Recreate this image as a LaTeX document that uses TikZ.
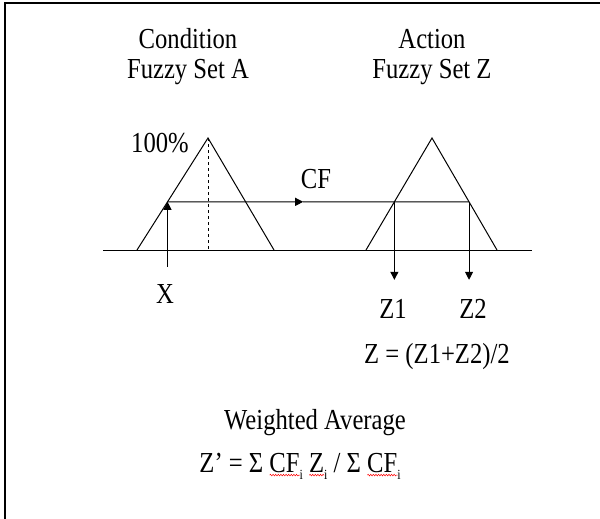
\documentclass[tikz,border=0pt]{standalone}
\usepackage{fontspec}
\setmainfont{Liberation Serif}[FakeStretch=0.85]
\usetikzlibrary{arrows.meta,calc,decorations.pathmorphing}

% red spell-check wave under a word
\newlength\wavlen
\newcommand{\wavy}[1]{\settowidth\wavlen{#1}\rlap{\raisebox{-4pt}{\tikz\draw[red,line width=0.5pt,decorate,
  decoration={snake,amplitude=0.8pt,segment length=2.6pt}] (0,0) -- (\wavlen,0);}}#1}
\newcommand{\sub}[1]{\raisebox{-7pt}{\fontsize{14}{14}\selectfont #1}}

\begin{document}
\begin{tikzpicture}[
  x=1pt,y=-1pt,
  font=\fontsize{29}{30}\selectfont,
  ln/.style={line width=1pt},
  ar/.style={ln,-{Triangle[length=8pt,width=8pt]}},
  lbl/.style={inner sep=0pt,align=center}]

\useasboundingbox (0,0) rectangle (600,519);
\draw[line width=2pt] (5,519) -- (5,3.5) -- (600,3.5);

% axis and the two sets
\coordinate (axis l) at (103,250);
\coordinate (axis r) at (532,250);
\coordinate (a l)  at (137,250);
\coordinate (a r)  at (274,250);
\coordinate (a top) at (208,138);
\coordinate (a foot) at (208,250);
\coordinate (z l)  at (366,250);
\coordinate (z r)  at (497,250);
\coordinate (z top) at (432,138);

\draw[ln] (axis l) -- (axis r);
\draw[ln] (a l) -- (a top) -- (a r);
\draw[ln] (z l) -- (z top) -- (z r);
\draw[ln,dashed] (a top) -- (a foot);

% cut level
\coordinate (x cut)  at ($(a l)!.43!(a top)$);
\coordinate (z1 cut) at ($(z l)!.43!(z top)$);
\coordinate (z2 cut) at ($(z r)!.43!(z top)$);
\coordinate (cf mid) at ($(x cut)!.45!(z2 cut)$);
\coordinate (x foot)  at ($(x cut)+(0,65)$);
\coordinate (z1 foot) at ($(z1 cut)+(0,78)$);
\coordinate (z2 foot) at ($(z2 cut)+(0,78)$);

\draw[ar] (x foot) -- (x cut);
\draw[ar] (x cut) -- (cf mid);
\draw[ln] (cf mid) -- (z2 cut);
\draw[ar] (z1 cut) -- (z1 foot);
\draw[ar] (z2 cut) -- (z2 foot);

% labels
\node[lbl] (cond) at (188,57) {Condition\\Fuzzy Set A};
\node[lbl] (act)  at (432,57) {Action\\Fuzzy Set Z};
\node[lbl] (full) at (160,143) {100\%};
\node[lbl] (cf)   at (316,179) {CF};
\node[lbl] (x)    at (165,294) {X};
\node[lbl] (z1)   at (393,309) {Z1};
\node[lbl] (z2)   at (473,309) {Z2};
\node[lbl] (avg)  at (437,357) {Z = (Z1+Z2)/2};
\node[lbl] (wavg) at (315,423) {Weighted Average};
\node[lbl] (form) at (300,466)
   {Z’ = Σ \wavy{CF}\sub{i}\ \wavy{Z}\sub{i} /\ Σ \wavy{CF}\sub{i}};
\end{tikzpicture}
\end{document}
